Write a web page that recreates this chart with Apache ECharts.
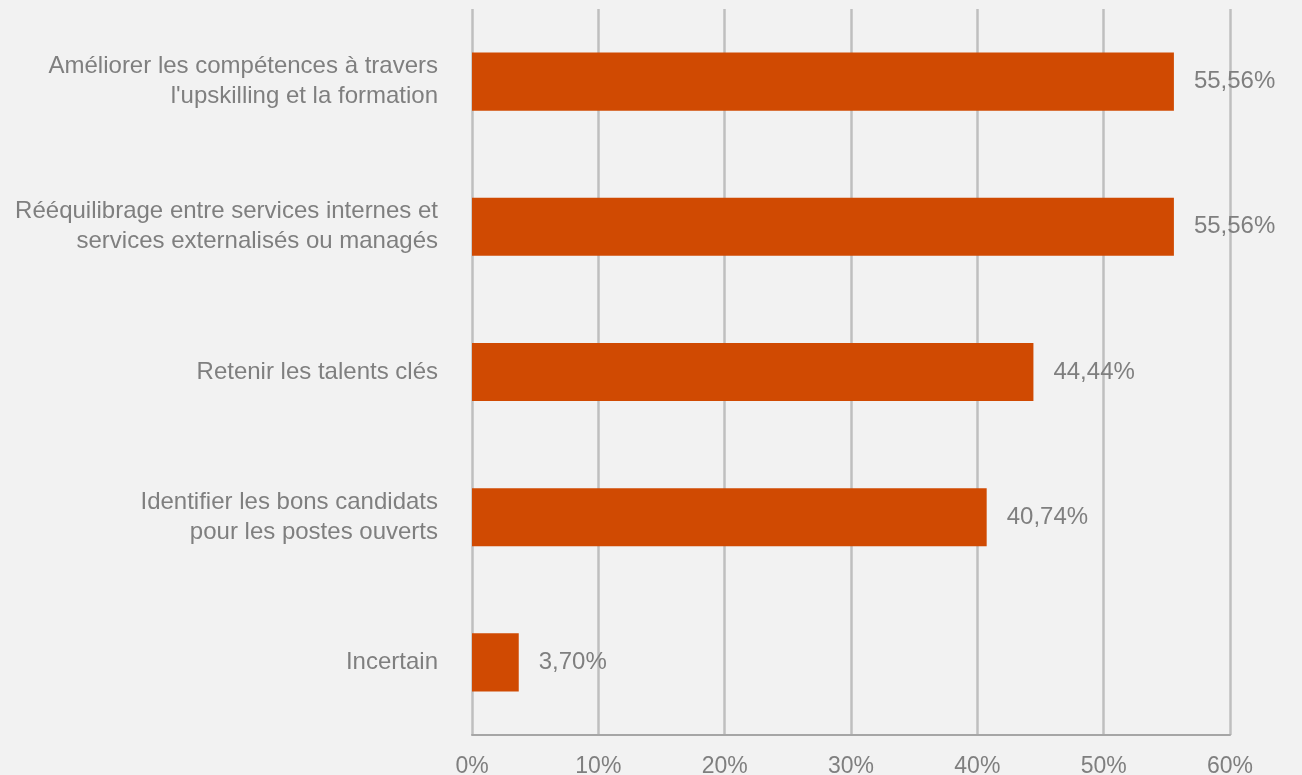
<!DOCTYPE html>
<html><head><meta charset="utf-8">
<script src="https://cdn.jsdelivr.net/npm/echarts@6/dist/echarts.min.js"></script>
<style>html,body{margin:0;padding:0;background:#f2f2f2;}#c{width:1302px;height:775px;}</style>
</head><body><div id="c"></div>
<script>
const categories = [
  "Améliorer les compétences à travers\nl'upskilling et la formation",
  "Rééquilibrage entre services internes et\nservices externalisés ou managés",
  "Retenir les talents clés",
  "Identifier les bons candidats\npour les postes ouverts",
  "Incertain"
];
const values = [55.56, 55.56, 44.44, 40.74, 3.70];
const xTicks = [0, 10, 20, 30, 40, 50, 60];

const chart = echarts.init(document.getElementById('c'), null, {renderer: 'canvas'});
const font = 'Liberation Sans, Arial, sans-serif';
chart.setOption({
  backgroundColor: '#f2f2f2',
  animation: false,
  grid: {left: 472, right: 72, top: 9, bottom: 40, containLabel: false, outerBoundsMode: 'none'},
  xAxis: {
    type: 'value', min: 0, max: 60, interval: 10,
    axisLine: {show: true, lineStyle: {color: '#a6a6a6', width: 2}},
    axisTick: {show: false},
    splitLine: {show: true, lineStyle: {color: '#bfbfbf', width: 2.5}},
    axisLabel: {color: '#7f7f7f', fontSize: 23, fontFamily: font, margin: 20,
      formatter: v => xTicks.includes(v) ? v + '%' : ''}
  },
  yAxis: {
    type: 'category', data: categories, inverse: true,
    axisLine: {show: false}, axisTick: {show: false},
    axisLabel: {color: '#7f7f7f', fontSize: 24, fontFamily: font, margin: 34, lineHeight: 30, align: 'right'}
  },
  series: [{
    type: 'bar', data: values, barWidth: '40%',
    itemStyle: {color: '#d04a02'},
    label: {show: true, position: 'right', distance: 20, color: '#7f7f7f', fontSize: 24, fontFamily: font,
      formatter: p => p.value.toFixed(2).replace('.', ',') + '%'}
  }]
});
</script></body></html>
